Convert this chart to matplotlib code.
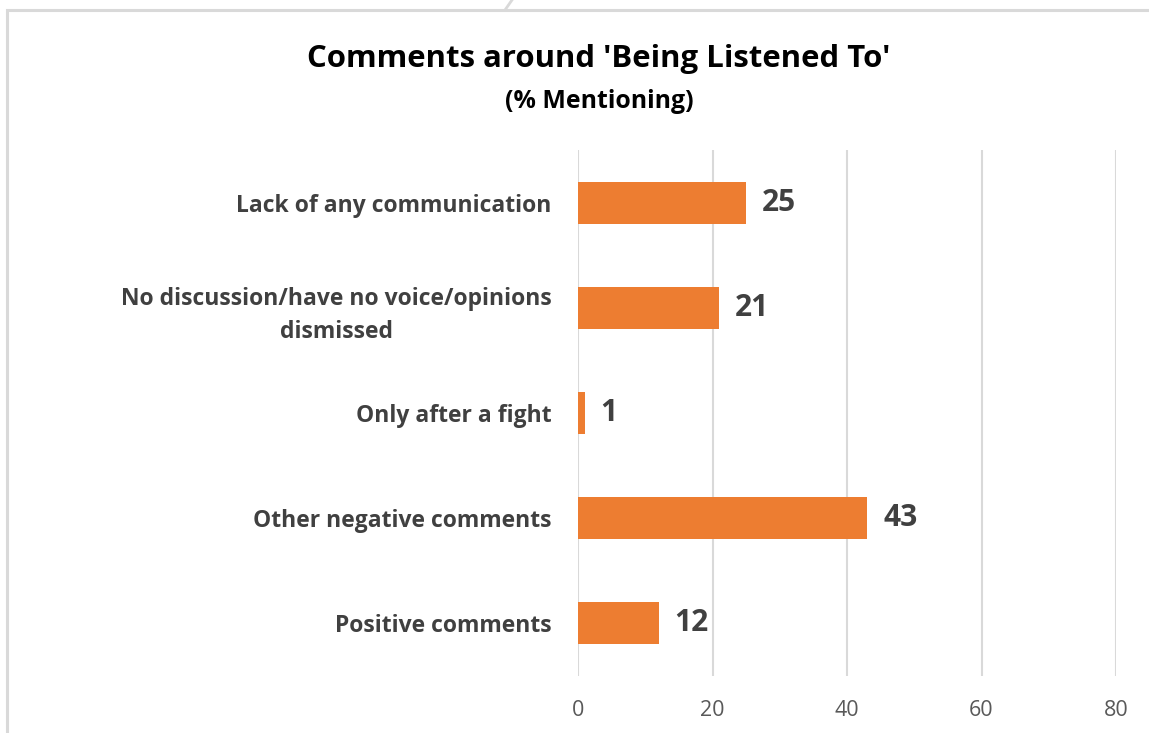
import matplotlib
matplotlib.use("Agg")
import matplotlib.pyplot as plt
from matplotlib.patches import Rectangle
from matplotlib.lines import Line2D

categories = [
    "Lack of any communication",
    "No discussion/have no voice/opinions\ndismissed",
    "Only after a fight",
    "Other negative comments",
    "Positive comments",
]
values = [25, 21, 1, 43, 12]
xticks = [0, 20, 40, 60, 80]

title = "Comments around 'Being Listened To'"
subtitle = "(% Mentioning)"

bar_color = "#ED7D31"
text_color = "#404040"
grid_color = "#D9D9D9"

plt.rcParams["font.family"] = ["Open Sans", "DejaVu Sans"]

fig = plt.figure(figsize=(11.49, 7.33), dpi=100)

# outer chart-area frame
fig.add_artist(Rectangle((7 / 1149, -0.01), 1.02, 1 - 10 / 733 + 0.01,
                         transform=fig.transFigure, fill=False,
                         edgecolor=grid_color, linewidth=2.2))
fig.add_artist(Line2D([505 / 1149, 512 / 1149], [1 - 10 / 733, 1.0],
                      transform=fig.transFigure, color=grid_color, linewidth=2))

ax = fig.add_axes([578 / 1149, 1 - 676 / 733, (1116 - 578) / 1149, (676 - 150) / 733])

ypos = list(range(len(categories)))
ax.barh(ypos, values, height=0.4, color=bar_color, zorder=3)
ax.set_ylim(len(categories) - 0.5, -0.5)
ax.set_xlim(0, 80)
ax.set_xticks(xticks)
ax.set_xticklabels([str(t) for t in xticks], fontsize=15.5, color="#595959")
ax.set_yticks(ypos)
ax.set_yticklabels(categories, fontsize=16.5, fontweight="bold", color=text_color,
                   multialignment="center", linespacing=1.5)
ax.tick_params(axis="y", length=0, pad=19)
ax.tick_params(axis="x", length=0, pad=17)

ax.grid(axis="x", color=grid_color, linewidth=1.5, zorder=0)
for s in ax.spines.values():
    s.set_visible(False)

for y, v in zip(ypos, values):
    ax.annotate(str(v), (v, y), xytext=(11.5, 0), textcoords="offset points",
                ha="left", va="center", fontsize=21.5, fontweight="bold",
                color=text_color)

fig.text(599 / 1149, 1 - 59 / 733, title, ha="center", va="center",
         fontsize=22.4, fontweight="bold", color="black")
fig.text(599 / 1149, 1 - 102 / 733, subtitle, ha="center", va="center",
         fontsize=17.9, fontweight="bold", color="black")

fig.savefig("out.png", dpi=100)
